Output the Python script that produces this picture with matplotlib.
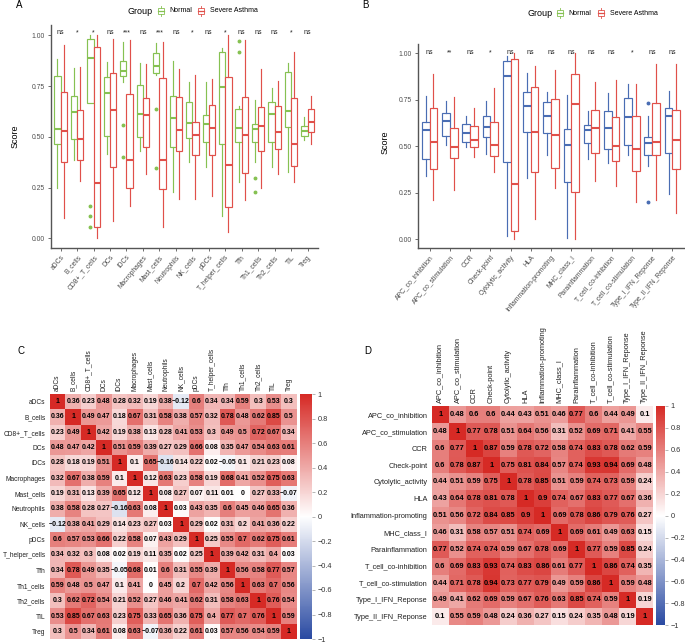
import numpy as np
import matplotlib.pyplot as plt
from matplotlib.colors import LinearSegmentedColormap
from matplotlib.patches import Rectangle
from matplotlib.lines import Line2D

plt.rcParams['font.family'] = ['Liberation Sans', 'DejaVu Sans']

W, H = 685, 642

# ---- panel A: immune cells (whislo, q1, median, q3, whishi) ----
a_cells = ['aDCs', 'B_cells', 'CD8+_T_cells', 'DCs', 'iDCs', 'Macrophages', 'Mast_cells',
           'Neutrophils', 'NK_cells', 'pDCs', 'T_helper_cells', 'Tfh', 'Th1_cells',
           'Th2_cells', 'TIL', 'Treg']
a_normal = [(0.246, 0.465, 0.537, 0.800, 0.883), (0.386, 0.488, 0.621, 0.701, 0.841),
            (0.667, 0.667, 0.890, 0.982, 1.000), (0.414, 0.504, 0.714, 0.796, 0.867),
            (0.772, 0.800, 0.826, 0.872, 0.969), (0.430, 0.498, 0.612, 0.757, 0.864),
            (0.805, 0.816, 0.851, 0.911, 0.961), (0.227, 0.448, 0.594, 0.701, 0.874),
            (0.378, 0.493, 0.570, 0.670, 0.768), (0.353, 0.476, 0.565, 0.606, 0.772),
            (0.112, 0.463, 0.745, 0.916, 0.936), (0.276, 0.473, 0.542, 0.635, 0.650),
            (0.378, 0.476, 0.539, 0.562, 0.680), (0.353, 0.476, 0.611, 0.670, 0.739),
            (0.325, 0.547, 0.629, 0.818, 0.865), (0.483, 0.502, 0.529, 0.552, 0.599)]
a_severe = [(0.099, 0.378, 0.529, 0.722, 0.952), (0.284, 0.384, 0.488, 0.634, 0.842),
            (0.003, 0.056, 0.271, 0.941, 1.000), (0.085, 0.350, 0.632, 0.816, 0.982),
            (0.159, 0.250, 0.386, 0.713, 0.975), (0.315, 0.452, 0.608, 0.690, 0.860),
            (0.057, 0.241, 0.386, 0.788, 0.969), (0.194, 0.430, 0.532, 0.698, 0.834),
            (0.194, 0.409, 0.509, 0.573, 0.805), (0.210, 0.410, 0.545, 0.657, 0.785),
            (0.030, 0.154, 0.361, 0.795, 1.000), (0.189, 0.322, 0.509, 0.695, 0.979),
            (0.246, 0.429, 0.552, 0.645, 0.834), (0.315, 0.438, 0.525, 0.650, 0.777),
            (0.276, 0.355, 0.463, 0.691, 0.916), (0.466, 0.524, 0.571, 0.637, 0.703)]
a_normal_out = {'CD8+_T_cells': [0.159, 0.112, 0.057], 'iDCs': [0.558, 0.40],
                'Mast_cells': [0.637, 0.345], 'Tfh': [0.974, 0.92], 'Th1_cells': [0.299, 0.23]}
a_severe_out = {}
a_sig = ['ns', '*', '*', 'ns', '***', 'ns', '***', 'ns', '*', 'ns', '*', 'ns', 'ns', 'ns', '*', 'ns']

# ---- panel B: immune functions ----
b_funcs = ['APC_co_inhibition', 'APC_co_stimulation', 'CCR', 'Check-point', 'Cytolytic_activity',
           'HLA', 'Inflammation-promoting', 'MHC_class_I', 'Parainflammation',
           'T_cell_co-inhibition', 'T_cell_co-stimulation', 'Type_I_IFN_Reponse',
           'Type_II_IFN_Reponse']
b_normal = [(0.338, 0.433, 0.585, 0.633, 0.773), (0.505, 0.555, 0.635, 0.678, 0.742),
            (0.495, 0.524, 0.573, 0.620, 0.665), (0.460, 0.549, 0.605, 0.665, 0.745),
            (0.018, 0.415, 0.878, 0.960, 0.987), (0.330, 0.578, 0.716, 0.791, 0.896),
            (0.451, 0.569, 0.665, 0.738, 0.793), (0.003, 0.305, 0.505, 0.593, 0.778),
            (0.433, 0.515, 0.587, 0.615, 0.691), (0.409, 0.487, 0.600, 0.687, 0.787),
            (0.451, 0.509, 0.655, 0.760, 0.836), (0.396, 0.451, 0.518, 0.551, 0.660),
            (0.242, 0.462, 0.660, 0.705, 0.796)]
b_severe = [(0.211, 0.375, 0.520, 0.705, 0.887), (0.265, 0.436, 0.495, 0.596, 0.767),
            (0.440, 0.498, 0.533, 0.609, 0.705), (0.360, 0.445, 0.505, 0.633, 0.815),
            (0.000, 0.042, 0.296, 0.971, 1.000), (0.109, 0.362, 0.575, 0.818, 0.933),
            (0.275, 0.384, 0.560, 0.756, 0.913), (0.000, 0.255, 0.727, 0.889, 1.000),
            (0.315, 0.462, 0.596, 0.695, 0.847), (0.287, 0.420, 0.500, 0.655, 0.855),
            (0.200, 0.367, 0.484, 0.664, 0.833), (0.209, 0.455, 0.524, 0.731, 0.942),
            (0.142, 0.378, 0.533, 0.695, 0.945)]
b_normal_out = {'Type_I_IFN_Reponse': [0.733, 0.202]}
b_severe_out = {}
b_sig = ['ns', '**', 'ns', '*', 'ns', 'ns', 'ns', 'ns', 'ns', 'ns', '*', 'ns', 'ns']

# ---- panel C: correlation of immune cells ----
c_corr = [
    [1, 0.36, 0.23, 0.48, 0.28, 0.32, 0.19, 0.38, -0.12, 0.6, 0.34, 0.34, 0.59, 0.3, 0.53, 0.3],
    [0.36, 1, 0.49, 0.47, 0.18, 0.67, 0.31, 0.58, 0.38, 0.57, 0.32, 0.78, 0.48, 0.62, 0.85, 0.5],
    [0.23, 0.49, 1, 0.42, 0.19, 0.38, 0.13, 0.28, 0.41, 0.53, 0.3, 0.49, 0.5, 0.72, 0.67, 0.34],
    [0.48, 0.47, 0.42, 1, 0.51, 0.59, 0.39, 0.27, 0.29, 0.66, 0.08, 0.35, 0.47, 0.54, 0.63, 0.61],
    [0.28, 0.18, 0.19, 0.51, 1, 0.1, 0.65, -0.16, 0.14, 0.22, 0.02, -0.05, 0.1, 0.21, 0.23, 0.08],
    [0.32, 0.67, 0.38, 0.59, 0.1, 1, 0.12, 0.63, 0.23, 0.58, 0.19, 0.68, 0.41, 0.52, 0.75, 0.63],
    [0.19, 0.31, 0.13, 0.39, 0.65, 0.12, 1, 0.08, 0.27, 0.07, 0.11, 0.01, 0, 0.27, 0.33, -0.07],
    [0.38, 0.58, 0.28, 0.27, -0.16, 0.63, 0.08, 1, 0.03, 0.43, 0.35, 0.6, 0.45, 0.46, 0.65, 0.36],
    [-0.12, 0.38, 0.41, 0.29, 0.14, 0.23, 0.27, 0.03, 1, 0.29, 0.02, 0.31, 0.2, 0.41, 0.36, 0.22],
    [0.6, 0.57, 0.53, 0.66, 0.22, 0.58, 0.07, 0.43, 0.29, 1, 0.25, 0.55, 0.7, 0.62, 0.75, 0.61],
    [0.34, 0.32, 0.3, 0.08, 0.02, 0.19, 0.11, 0.35, 0.02, 0.25, 1, 0.39, 0.42, 0.31, 0.4, 0.03],
    [0.34, 0.78, 0.49, 0.35, -0.05, 0.68, 0.01, 0.6, 0.31, 0.55, 0.39, 1, 0.56, 0.58, 0.77, 0.57],
    [0.59, 0.48, 0.5, 0.47, 0.1, 0.41, 0, 0.45, 0.2, 0.7, 0.42, 0.56, 1, 0.63, 0.7, 0.56],
    [0.3, 0.62, 0.72, 0.54, 0.21, 0.52, 0.27, 0.46, 0.41, 0.62, 0.31, 0.58, 0.63, 1, 0.76, 0.54],
    [0.53, 0.85, 0.67, 0.63, 0.23, 0.75, 0.33, 0.65, 0.36, 0.75, 0.4, 0.77, 0.7, 0.76, 1, 0.59],
    [0.3, 0.5, 0.34, 0.61, 0.08, 0.63, -0.07, 0.36, 0.22, 0.61, 0.03, 0.57, 0.56, 0.54, 0.59, 1]]

# ---- panel D: correlation of immune functions ----
d_corr = [
    [1, 0.48, 0.6, 0.6, 0.44, 0.43, 0.51, 0.46, 0.77, 0.6, 0.44, 0.49, 0.1],
    [0.48, 1, 0.77, 0.78, 0.51, 0.64, 0.56, 0.31, 0.52, 0.69, 0.71, 0.41, 0.55],
    [0.6, 0.77, 1, 0.87, 0.59, 0.78, 0.72, 0.58, 0.74, 0.83, 0.78, 0.62, 0.59],
    [0.6, 0.78, 0.87, 1, 0.75, 0.81, 0.84, 0.57, 0.74, 0.93, 0.94, 0.69, 0.48],
    [0.44, 0.51, 0.59, 0.75, 1, 0.78, 0.85, 0.51, 0.59, 0.74, 0.73, 0.59, 0.24],
    [0.43, 0.64, 0.78, 0.81, 0.78, 1, 0.9, 0.74, 0.67, 0.83, 0.77, 0.67, 0.36],
    [0.51, 0.56, 0.72, 0.84, 0.85, 0.9, 1, 0.69, 0.78, 0.86, 0.79, 0.76, 0.27],
    [0.46, 0.31, 0.58, 0.57, 0.51, 0.74, 0.69, 1, 0.69, 0.61, 0.49, 0.63, 0.15],
    [0.77, 0.52, 0.74, 0.74, 0.59, 0.67, 0.78, 0.69, 1, 0.77, 0.59, 0.85, 0.24],
    [0.6, 0.69, 0.83, 0.93, 0.74, 0.83, 0.86, 0.61, 0.77, 1, 0.86, 0.74, 0.35],
    [0.44, 0.71, 0.78, 0.94, 0.73, 0.77, 0.79, 0.49, 0.59, 0.86, 1, 0.59, 0.48],
    [0.49, 0.41, 0.62, 0.69, 0.59, 0.67, 0.76, 0.63, 0.85, 0.74, 0.59, 1, 0.19],
    [0.1, 0.55, 0.59, 0.48, 0.24, 0.36, 0.27, 0.15, 0.24, 0.35, 0.48, 0.19, 1]]

GREEN = '#86C152'
RED = '#E0504A'
BLUE = '#4A6DB3'
AXC = '#555555'
cmap = LinearSegmentedColormap.from_list('bwr_r', ['#2A4AA2', 'white', '#D62A25'])


def rect(x0, y0, x1, y1):
    # pixel box (origin top-left) -> figure fraction
    return [x0 / W, 1 - y1 / H, (x1 - x0) / W, (y1 - y0) / H]


def draw_boxes(ax, stats, names, pos, color, outliers):
    bx = []
    for name, (lo, q1, med, q3, hi) in zip(names, stats):
        bx.append(dict(whislo=lo, q1=q1, med=med, q3=q3, whishi=hi,
                       fliers=outliers.get(name, [])))
    ax.bxp(bx, positions=pos, widths=0.38, showcaps=False, patch_artist=True,
           boxprops=dict(facecolor='white', edgecolor=color, linewidth=0.85),
           whiskerprops=dict(color=color, linewidth=0.85),
           medianprops=dict(color=color, linewidth=1.5),
           flierprops=dict(marker='o', markersize=1.8, markerfacecolor=color,
                           markeredgecolor=color))


def box_panel(ax, names, normal, severe, n_out, s_out, sig, ncol, sig_y):
    x = np.arange(1, len(names) + 1)
    draw_boxes(ax, normal, names, x - 0.19, ncol, n_out)
    draw_boxes(ax, severe, names, x + 0.19, RED, s_out)
    for xi, s in zip(x, sig):
        ax.text(xi, sig_y, s, ha='center', va='center', fontsize=5, color='#222222')
    ax.set_xlim(0.4, len(names) + 0.6)
    ax.set_ylim(-0.05, 1.05)
    ax.set_yticks([0, 0.25, 0.5, 0.75, 1.0])
    ax.set_yticklabels(['0.00', '0.25', '0.50', '0.75', '1.00'])
    ax.set_xticks(x)
    ax.set_xticklabels(names, rotation=50, ha='right', va='top', rotation_mode='anchor')
    for s in ['top', 'right']:
        ax.spines[s].set_visible(False)
    for s in ['left', 'bottom']:
        ax.spines[s].set_color(AXC)
        ax.spines[s].set_linewidth(1.0)
    ax.tick_params(length=2.5, width=0.6, color=AXC, labelsize=4.9, labelcolor='#4D4D4D', pad=1.5)


def legend(fig, xt, y, xg, xn, xr, xs):
    fig.text(xt / W, 1 - y / H, 'Group', fontsize=6.5, va='center', ha='left')
    for xi, color in [(xg, GREEN), (xr, RED)]:
        fig.patches.append(Rectangle((xi / W, 1 - (y + 3) / H), 6 / W, 6 / H, fill=False,
                                     edgecolor=color, lw=0.6, transform=fig.transFigure))
        fig.lines.append(Line2D([xi / W, (xi + 6) / W], [1 - y / H] * 2, color=color, lw=0.9,
                                transform=fig.transFigure))
        fig.lines.append(Line2D([(xi + 3) / W] * 2, [1 - (y - 5) / H, 1 - (y - 3) / H],
                                color=color, lw=0.6, transform=fig.transFigure))
        fig.lines.append(Line2D([(xi + 3) / W] * 2, [1 - (y + 3) / H, 1 - (y + 5) / H],
                                color=color, lw=0.6, transform=fig.transFigure))
    fig.text(xn / W, 1 - y / H, 'Normal', fontsize=5, va='center', ha='left')
    fig.text(xs / W, 1 - y / H, 'Severe Asthma', fontsize=5, va='center', ha='left')


def fmt(v):
    s = '%g' % v
    return s.replace('-', '\u2212')


def heat_panel(fig, ax, cax, mat, labels, fs_cell, fs_lab, pad_y):
    m = np.array(mat, dtype=float)
    n = len(labels)
    mesh = ax.pcolormesh(m, cmap=cmap, vmin=-1, vmax=1)
    ax.set_xlim(0, n)
    ax.set_ylim(n, 0)
    for i in range(n):
        for j in range(n):
            ax.text(j + 0.5, i + 0.5, fmt(m[i, j]), ha='center', va='center',
                    fontsize=fs_cell, fontweight='bold', color='black')
    ax.set_xticks(np.arange(n) + 0.5)
    ax.set_xticklabels(labels, rotation=90, fontsize=fs_lab, color='#222222')
    ax.xaxis.tick_top()
    ax.set_yticks(np.arange(n) + 0.5)
    ax.set_yticklabels(labels, fontsize=fs_lab, color='#222222')
    ax.tick_params(axis='x', length=0, pad=2)
    ax.tick_params(axis='y', length=0, pad=pad_y)
    for s in ax.spines.values():
        s.set_visible(False)
    cb = fig.colorbar(mesh, cax=cax)
    ticks = [1, 0.8, 0.6, 0.4, 0.2, 0, -0.2, -0.4, -0.6, -0.8, -1]
    cb.set_ticks(ticks)
    cb.set_ticklabels([fmt(t) for t in ticks])
    cb.outline.set_visible(False)
    cax.tick_params(length=2, width=0.5, color='#999999', labelsize=5.3, labelcolor='#333333', pad=2)


fig = plt.figure(figsize=(W / 100, H / 100), dpi=100)

# panel A
axA = fig.add_axes(rect(50.7, 25.2, 317.5, 248.4))
box_panel(axA, a_cells, a_normal, a_severe, a_normal_out, a_severe_out, a_sig, GREEN, 1.013)
fig.text(15 / W, 1 - 136 / H, 'Score', rotation=90, ha='center', va='center', fontsize=6.5)
legend(fig, 127, 11, 157.5, 169, 198, 210)
fig.text(16 / W, 1 - 5 / H, 'A', fontsize=7, va='center', ha='left')

# panel B
axB = fig.add_axes(rect(417.5, 44.1, 684.5, 248.3))
box_panel(axB, b_funcs, b_normal, b_severe, b_normal_out, b_severe_out, b_sig, BLUE, 1.005)
fig.text(385 / W, 1 - 142 / H, 'Score', rotation=90, ha='center', va='center', fontsize=6.5)
legend(fig, 527, 13.3, 557, 568, 598, 610)
fig.text(362 / W, 1 - 5 / H, 'B', fontsize=7, va='center', ha='left')

# panel C
axC = fig.add_axes(rect(50, 394, 296.7, 639))
caxC = fig.add_axes(rect(300, 394, 311.7, 639))
heat_panel(fig, axC, caxC, c_corr, a_cells, 5.0, 4.8, 3.2)
fig.text(17 / W, 1 - 351 / H, 'C', fontsize=7, va='center', ha='left')

# panel D
axD = fig.add_axes(rect(431.7, 406, 653.3, 625.3))
caxD = fig.add_axes(rect(656, 406, 665, 625.3))
heat_panel(fig, axD, caxD, d_corr, b_funcs, 5.4, 5.3, 3)
fig.text(364 / W, 1 - 351 / H, 'D', fontsize=7, va='center', ha='left')

fig.savefig('out.png', dpi=100)
